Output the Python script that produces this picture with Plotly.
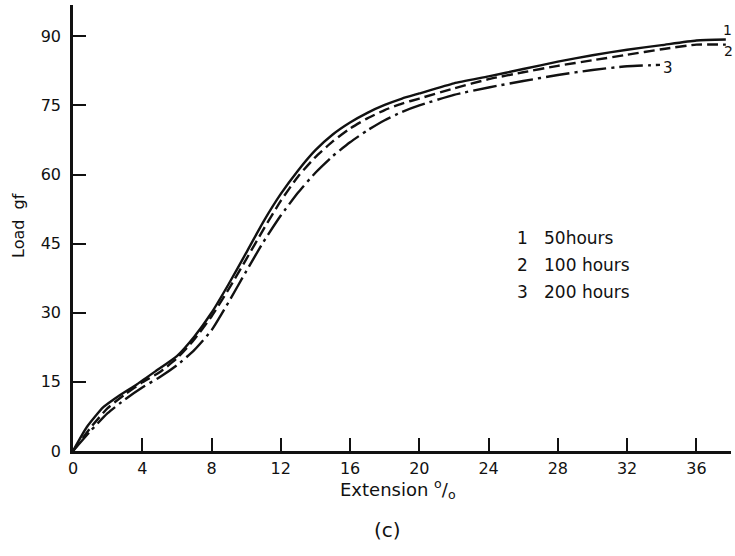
import plotly.graph_objects as go

# Curve 1: 50 hours (solid)
x1 = [0, 0.8, 1.75, 2.7, 3.7, 4.8, 6, 7, 8, 9, 10, 11, 12, 13, 14, 15, 16, 17, 18, 19, 20, 22, 24, 26, 28, 30, 32, 34, 36, 37.7]
y1 = [0, 5.2, 9.5, 12.1, 14.5, 17.4, 20.6, 24.8, 30.0, 36.3, 43.0, 49.8, 55.8, 60.9, 65.3, 68.7, 71.3, 73.4, 75.1, 76.5, 77.6, 79.8, 81.3, 82.9, 84.5, 85.9, 87.1, 88.1, 89.1, 89.3]

# Curve 2: 100 hours (dashed)
x2 = [0, 1, 2, 3, 4, 5, 6, 7, 8, 9, 10, 11, 12, 13, 14, 15, 16, 17, 18, 19, 20, 22, 24, 26, 28, 30, 32, 34, 36, 37.7]
y2 = [0, 5.0, 9.3, 12.3, 14.9, 17.1, 20.1, 24.2, 29.2, 35.2, 41.6, 48.1, 54.3, 59.6, 63.8, 67.2, 70.0, 72.2, 74.0, 75.4, 76.5, 78.7, 80.7, 82.2, 83.6, 84.8, 86.0, 87.2, 88.2, 88.2]

# Curve 3: 200 hours (dash-dot)
x3 = [0, 1, 2, 3, 4, 5, 6, 7, 8, 9, 10, 11, 12, 13, 14, 15, 16, 17, 18, 19, 20, 22, 24, 26, 28, 30, 32, 33.9]
y3 = [0, 4.3, 8.2, 11.2, 13.8, 16.0, 18.6, 21.9, 26.2, 32.4, 39.0, 45.4, 51.1, 56.1, 60.4, 64.0, 67.0, 69.6, 71.8, 73.6, 75.0, 77.3, 78.9, 80.3, 81.6, 82.7, 83.5, 83.8]

curve_labels = ["1", "2", "3"]
legend_lines = ["1   50hours", "2   100 hours", "3   200 hours"]

x_ticks = [0, 4, 8, 12, 16, 20, 24, 28, 32, 36]
y_ticks = [0, 15, 30, 45, 60, 75, 90]

FONT = "'DejaVu Sans', sans-serif"
BLACK = "#111111"

W, H = 735, 556
L, R, T, B = 73, 4, 5, 105
pw, ph = W - L - R, H - T - B


def px_x(p):
    return (p - L) / pw


def px_y(p):
    return (H - B - p) / ph


fig = go.Figure()
fig.add_trace(go.Scatter(x=x1, y=y1, mode="lines", line=dict(color=BLACK, width=2.4, shape="spline", smoothing=0.5), cliponaxis=False))
fig.add_trace(go.Scatter(x=x2, y=y2, mode="lines", line=dict(color=BLACK, width=2.4, dash="11px,5px", shape="spline", smoothing=0.5), cliponaxis=False))
fig.add_trace(go.Scatter(x=x3, y=y3, mode="lines", line=dict(color=BLACK, width=2.4, dash="24px,5px,3px,5px", shape="spline", smoothing=0.5), cliponaxis=False))

ann = []
# curve end labels
ann.append(dict(x=px_x(734), y=y1[-1], xref="paper", yref="y", text=curve_labels[0], showarrow=False,
                xanchor="right", yanchor="middle", yshift=10, font=dict(family=FONT, size=14, color=BLACK)))
ann.append(dict(x=px_x(735), y=y2[-1], xref="paper", yref="y", text=curve_labels[1], showarrow=False,
                xanchor="right", yanchor="middle", yshift=-6, font=dict(family=FONT, size=14, color=BLACK)))
ann.append(dict(x=x3[-1], y=y3[-1], xref="x", yref="y", text=curve_labels[2], showarrow=False,
                xanchor="left", yanchor="middle", xshift=1, yshift=-3, font=dict(family=FONT, size=15, color=BLACK)))
# legend text
for i, t in enumerate(legend_lines):
    ann.append(dict(x=px_x(515), y=px_y(238 + 27 * i), xref="paper", yref="paper", text=t, showarrow=False,
                    xanchor="left", yanchor="middle", font=dict(family=FONT, size=17, color=BLACK)))
# axis titles and caption
ann.append(dict(x=px_x(18), y=px_y(226), xref="paper", yref="paper", text="Load  gf", showarrow=False, textangle=-90,
                xanchor="center", yanchor="middle", font=dict(family=FONT, size=16, color=BLACK)))
ann.append(dict(x=px_x(398), y=px_y(489), xref="paper", yref="paper", text="Extension <sup>o</sup>/<sub>o</sub>", showarrow=False,
                xanchor="center", yanchor="middle", font=dict(family=FONT, size=18, color=BLACK)))
ann.append(dict(x=px_x(387), y=px_y(530), xref="paper", yref="paper", text="(c)", showarrow=False,
                xanchor="center", yanchor="middle", font=dict(family=FONT, size=20, color=BLACK)))

fig.update_layout(
    width=W, height=H,
    margin=dict(l=L, r=R, t=T, b=B, autoexpand=False),
    paper_bgcolor="white", plot_bgcolor="white",
    showlegend=False,
    font=dict(family=FONT, size=15, color=BLACK),
    annotations=ann,
    xaxis=dict(range=[0, 38], tickvals=x_ticks, ticktext=[str(v) for v in x_ticks], automargin=False,
               ticks="inside", ticklen=13, tickwidth=2, tickcolor=BLACK,
               showline=True, linewidth=2.5, linecolor=BLACK, showgrid=False, zeroline=False,
               tickfont=dict(family=FONT, size=16, color=BLACK), ticklabelstandoff=1),
    yaxis=dict(range=[0, 96.8], tickvals=y_ticks, ticktext=[str(v) for v in y_ticks], automargin=False,
               ticks="inside", ticklen=13, tickwidth=2, tickcolor=BLACK,
               showline=True, linewidth=2.5, linecolor=BLACK, showgrid=False, zeroline=False,
               tickfont=dict(family=FONT, size=16, color=BLACK), ticklabelstandoff=6),
)

fig.write_html("out.html", config={"displayModeBar": False},
               post_script="document.body.style.margin='0px';")
